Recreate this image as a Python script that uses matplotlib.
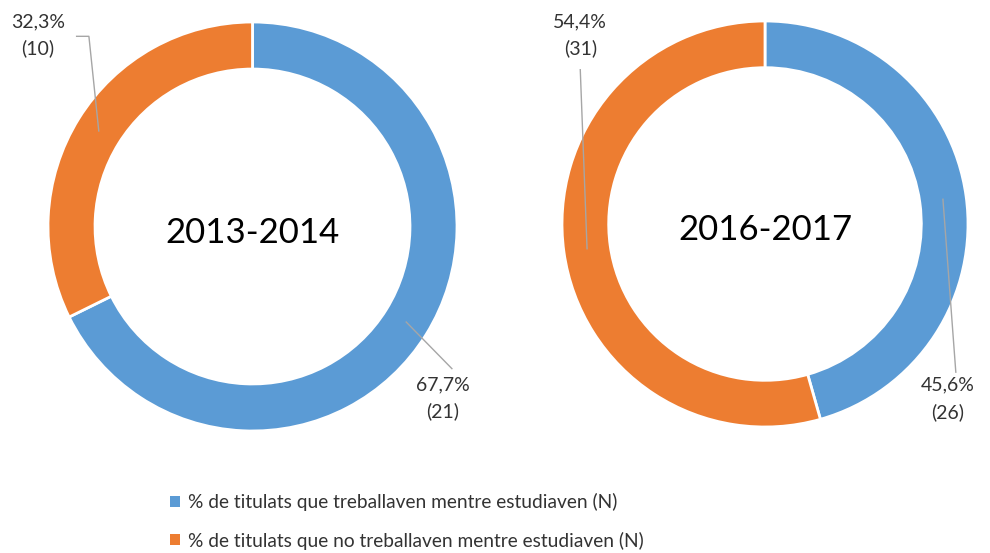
import numpy as np
import matplotlib.pyplot as plt
from matplotlib.patches import Patch

plt.rcParams['font.family'] = ['Lato', 'DejaVu Sans']

years = ["2013-2014", "2016-2017"]
series = ["% de titulats que treballaven mentre estudiaven (N)",
          "% de titulats que no treballaven mentre estudiaven (N)"]
pct_work = [67.7, 45.6]
pct_nowork = [32.3, 54.4]
n_work = [21, 26]
n_nowork = [10, 31]

colors = ["#5B9BD5", "#ED7D31"]
text_col = "#333333"
line_col = "#A6A6A6"

fig = plt.figure(figsize=(9.9, 5.53), dpi=100)

# axes placed so that pie radius 1 = ~204 px
axes_pos = [[48 / 990, 1 - 431 / 553, 409 / 990, 409 / 553],
            [562 / 990, 1 - 427 / 553, 406 / 990, 406 / 553]]

# label layout per chart: (text pos, leader end, optional elbow) for [work, nowork]
label_layout = [
    {"work": ((0.93, -0.84), [(0.975, -0.695)]),
     "nowork": ((-1.05, 0.935), [(-0.80, 0.93), (-0.86, 0.93)])},
    {"work": ((0.90, -0.86), [(0.94, -0.73)]),
     "nowork": ((-0.91, 0.93), [(-0.91, 0.76)])},
]

for i, year in enumerate(years):
    ax = fig.add_axes(axes_pos[i])
    vals = [pct_work[i], pct_nowork[i]]
    wedges, _ = ax.pie(vals, colors=colors, startangle=90, counterclock=False,
                       radius=1.0, wedgeprops=dict(width=0.23, edgecolor="white", linewidth=2))
    ax.set_xlim(-1, 1)
    ax.set_ylim(-1, 1)
    ax.set_aspect("equal")
    ax.axis("off")
    ax.text(0, -0.03, year, ha="center", va="center", fontsize=25, color="#000000")

    counts = [n_work[i], n_nowork[i]]
    for key, w, p, n in zip(["work", "nowork"], wedges, vals, counts):
        ang = np.deg2rad((w.theta1 + w.theta2) / 2)
        anchor = (0.885 * np.cos(ang), 0.885 * np.sin(ang))
        tpos, pts = label_layout[i][key]
        xs = [anchor[0]] + [q[0] for q in pts]
        ys = [anchor[1]] + [q[1] for q in pts]
        ax.plot(xs, ys, color=line_col, lw=1, clip_on=False, zorder=3)
        ax.text(tpos[0], tpos[1], f"{p:.1f}%".replace(".", ",") + f"\n({n})",
                ha="center", va="center", fontsize=14, color=text_col,
                linespacing=1.65, clip_on=False)

handles = [Patch(facecolor=c, edgecolor="none") for c in colors]
fig.legend(handles, series, loc="upper left", bbox_to_anchor=(153 / 990, 1 - 476 / 553),
           frameon=False, fontsize=13.8, handlelength=0.5, handleheight=0.5,
           handletextpad=0.45, labelspacing=1.05, labelcolor=text_col)

fig.savefig("out.png", dpi=100)
